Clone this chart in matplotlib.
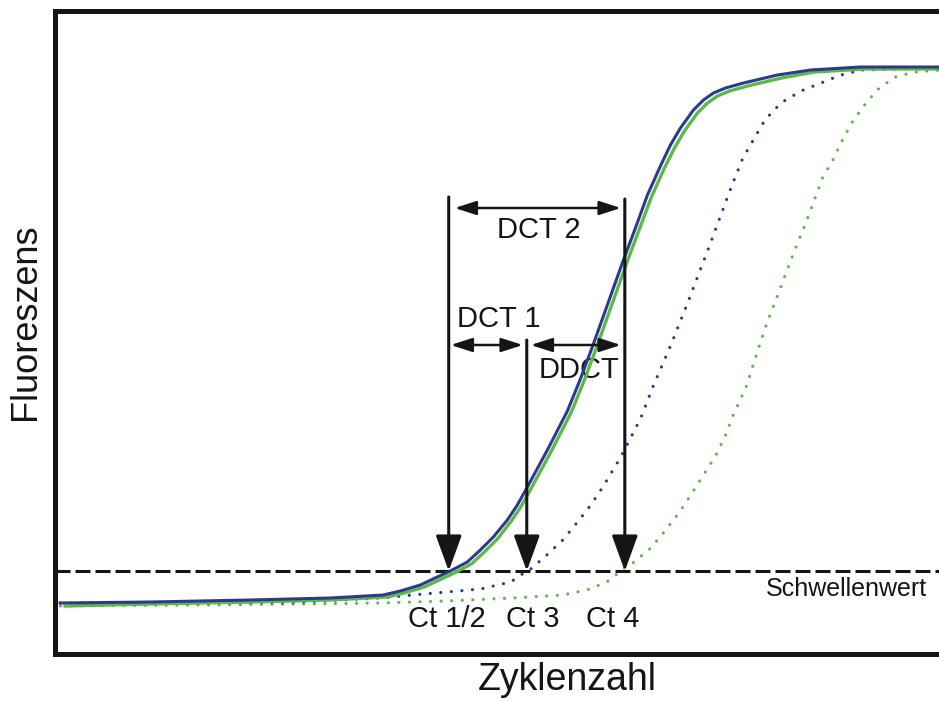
import matplotlib
matplotlib.use("Agg")
import matplotlib.pyplot as plt
from matplotlib.patches import FancyArrowPatch

plt.rcParams['font.family'] = ['Liberation Sans', 'DejaVu Sans']

# ---- data (cycle, fluorescence a.u.) ----
blue_solid_x = [0.28, 4.78, 9.78, 13.78, 16.43, 17.28, 18.28, 19.13, 19.78, 20.63, 21.28, 21.93,
                22.63, 23.13, 23.63, 24.63, 25.63, 26.28, 26.93, 27.68, 28.43, 29.03, 29.63,
                30.28, 30.78, 31.28, 31.93, 32.43, 32.93, 33.53, 34.43, 36.13, 37.78, 40.28, 44.23]
blue_solid_y = [51, 52, 54, 56, 59, 63, 69, 77, 83, 92, 104, 117,
                134, 149, 167, 204, 243, 275, 310, 352, 394, 426, 459,
                488, 509, 526, 544, 554, 561, 566, 571, 579, 584, 587, 587]

green_solid_x = [0.53, 4.78, 9.78, 13.78, 16.63, 17.48, 18.48, 19.33, 19.98, 20.83, 21.48, 22.13,
                 22.83, 23.33, 23.83, 24.83, 25.83, 26.48, 27.13, 27.88, 28.63, 29.23, 29.83,
                 30.48, 30.98, 31.48, 32.13, 32.63, 33.13, 33.73, 34.63, 36.33, 37.98, 40.48, 44.23]
green_solid_y = [48, 50, 52, 54, 57, 61, 67, 75, 81, 90, 102, 115,
                 133, 148, 166, 203, 242, 274, 309, 351, 393, 425, 457,
                 486, 506, 523, 541, 551, 558, 563, 568, 576, 582, 585, 585]

blue_dot_x = [0.3, 7.3, 12.3, 16.3, 17.9, 19.6, 21.3, 22.8, 23.3, 23.8, 24.6, 25.4, 26.1,
              26.8, 27.4, 28.3, 29.3, 29.9, 30.8, 31.6, 32.8, 33.8, 34.4, 35.5, 36.3,
              37.3, 38.3, 39.3, 40.3, 44.3]
blue_dot_y = [51, 51, 52, 56, 59, 62, 65, 72, 79, 85, 99, 114, 131,
              149, 167, 197, 236, 267, 309, 349, 412, 466, 496, 534, 551,
              563, 571, 579, 584, 586]

green_dot_x = [0.3, 7.3, 12.3, 16.3, 19.6, 22.9, 25.4, 26.6, 27.6, 28.0, 28.4, 28.9, 29.8,
               30.5, 31.2, 31.8, 32.4, 33.0, 33.5, 33.9, 34.6, 35.1, 35.6, 36.2, 36.8,
               37.6, 38.4, 38.9, 39.3, 39.8, 40.4, 41.1, 42.0, 43.0, 44.3]
green_dot_y = [48, 49, 50, 51, 53, 56, 59, 64, 72, 78, 85, 91, 106,
               123, 141, 159, 178, 197, 217, 238, 269, 301, 331, 362, 394,
               434, 477, 494, 511, 530, 547, 564, 577, 582, 584]

threshold = 83
ct_values = [19.7, 23.6, 28.5]
ct_labels = ["Ct 1/2", "Ct 3", "Ct 4"]
arrow_tops = [457, 314, 455]

BLUE = '#2b3a8e'
GREEN = '#5cb947'
BLACK = '#151515'

fig = plt.figure(figsize=(9.39, 7.02), dpi=100)
W, H = 939, 702
ax = fig.add_axes([54.5 / W, (H - 654) / H, 1 - 54.5 / W, (654 - 10.5) / H])
ax.set_xlim(0, 44.2)
ax.set_ylim(0, 643.5)
ax.set_xticks([])
ax.set_yticks([])
for s in ['left', 'top', 'bottom']:
    ax.spines[s].set_linewidth(3.6)
    ax.spines[s].set_color(BLACK)
ax.spines['right'].set_visible(False)

# threshold
lw_t = 2.2
ax.plot([0, 44.2], [threshold, threshold], color=BLACK, lw=lw_t,
        dashes=(10.8 / lw_t, 3.6 / lw_t), solid_capstyle='butt', zorder=2)

# dotted curves
lw_d = 2.3
ax.plot(green_dot_x, green_dot_y, color=GREEN, lw=lw_d, dashes=(0.01, 3.3),
        dash_capstyle='round', zorder=3)
ax.plot(blue_dot_x, blue_dot_y, color=BLUE, lw=lw_d, dashes=(0.01, 3.3),
        dash_capstyle='round', zorder=3)

# solid curves
ax.plot(green_solid_x, green_solid_y, color=GREEN, lw=2.4, zorder=4,
        solid_joinstyle='round')
ax.plot(blue_solid_x, blue_solid_y, color=BLUE, lw=2.2, zorder=5,
        solid_joinstyle='round')

# vertical arrows
for c, top in zip(ct_values, arrow_tops):
    a = FancyArrowPatch((c, top), (c, threshold), arrowstyle='-|>,head_length=22,head_width=8',
                        mutation_scale=1, shrinkA=0, shrinkB=0, color=BLACK, lw=2.2,
                        zorder=6)
    ax.add_patch(a)

# horizontal double arrows
def harrow(x0, x1, y):
    a = FancyArrowPatch((x0, y), (x1, y), arrowstyle='<|-|>,head_length=13,head_width=4.2',
                        mutation_scale=1, shrinkA=0, shrinkB=0, color=BLACK, lw=1.8,
                        zorder=6)
    ax.add_patch(a)

harrow(ct_values[0] + 0.3, ct_values[2] - 0.2, 446)
harrow(ct_values[0] + 0.1, ct_values[1] - 0.2, 309)
harrow(ct_values[1] + 0.2, ct_values[2] - 0.2, 309)

fs = 21
ax.text(24.2, 416, "DCT 2", ha='center', va='baseline', fontsize=fs, color=BLACK)
ax.text(22.2, 327, "DCT 1", ha='center', va='baseline', fontsize=fs, color=BLACK)
ax.text(26.2, 276, "DDCT", ha='center', va='baseline', fontsize=fs, color=BLACK)

for c, lab, cx in zip(ct_values, ct_labels, [19.6, 23.9, 27.9]):
    ax.text(cx, 27, lab, ha='center', va='baseline', fontsize=21, color=BLACK)

ax.text(43.6, 58, "Schwellenwert", ha='right', va='baseline', fontsize=18, color=BLACK)

fig.text(26 / W, 1 - 322 / H, "Fluoreszens", rotation=90, ha='center', va='center',
         fontsize=26, color=BLACK)
fig.text(567 / W, 1 - 690 / H, "Zyklenzahl", ha='center', va='baseline',
         fontsize=27, color=BLACK)

fig.savefig("out.png", dpi=100)
